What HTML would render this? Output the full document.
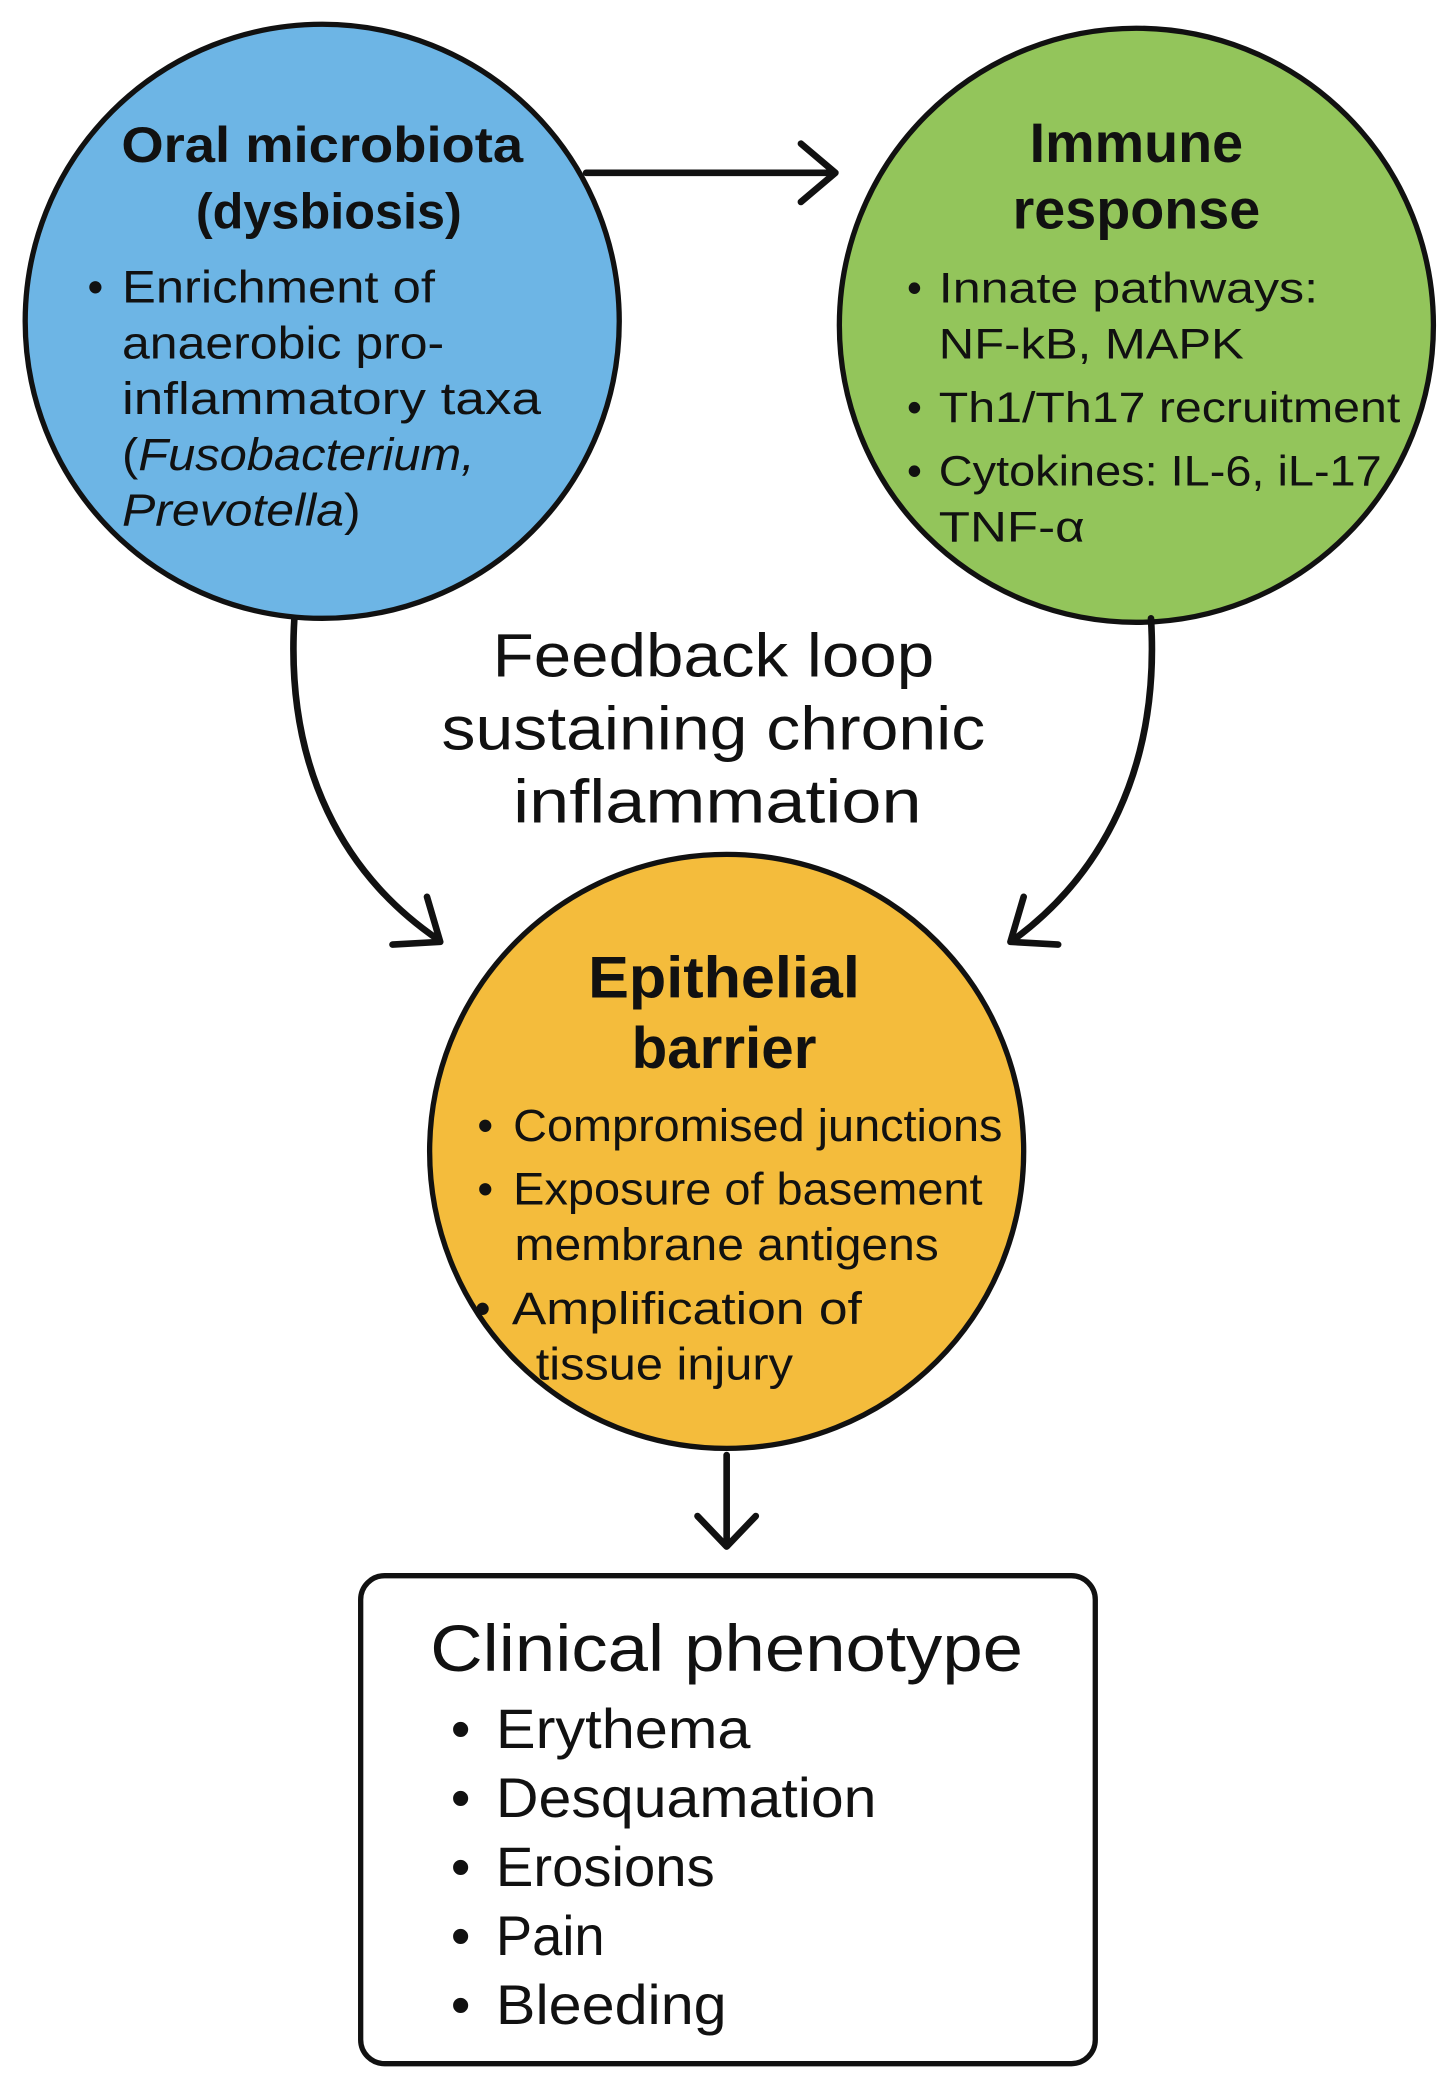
<!DOCTYPE html>
<html><head><meta charset="utf-8">
<style>
html,body{margin:0;padding:0;background:#fff;}
svg{display:block;}
text{font-family:"Liberation Sans","DejaVu Sans",sans-serif;fill:#111;}
</style></head>
<body>
<svg width="1448" height="2080" viewBox="0 0 1092 1568" xmlns="http://www.w3.org/2000/svg">
<!-- circles -->
<circle cx="243" cy="242" r="224" fill="#6db5e5" stroke="#111" stroke-width="4"/>
<circle cx="857" cy="245" r="224" fill="#93c55b" stroke="#111" stroke-width="4"/>
<circle cx="548" cy="868" r="224" fill="#f4bc3c" stroke="#111" stroke-width="4"/>
<rect x="272" y="1188" width="554" height="368" rx="18" fill="#fff" stroke="#111" stroke-width="4"/>

<!-- arrows -->
<g fill="none" stroke="#111" stroke-width="5" stroke-linecap="round" stroke-linejoin="round">
<path d="M442 130 L628 130"/>
<path d="M604 108 L630 130 L604 152"/>
<path d="M222 466 C215 580 260 660 330 708"/>
<path d="M296 712 L332 710 L322 676"/>
<path d="M868 466 C875 580 830 660 765 708"/>
<path d="M798 712 L762 710 L772 676"/>
<path d="M548 1097 L548 1165"/>
<path d="M526 1143 L548 1166 L570 1143"/>
</g>

<!-- blue text -->
<g font-size="38" font-weight="bold" text-anchor="middle">
<text x="243" y="122" textLength="303" lengthAdjust="spacingAndGlyphs">Oral microbiota</text>
<text x="248" y="172">(dysbiosis)</text>
</g>
<g font-size="34">
<text x="66" y="228">•</text>
<text x="92" y="228" textLength="236" lengthAdjust="spacingAndGlyphs">Enrichment of</text>
<text x="92" y="270" textLength="243" lengthAdjust="spacingAndGlyphs">anaerobic pro-</text>
<text x="92" y="312" textLength="316" lengthAdjust="spacingAndGlyphs">inflammatory taxa</text>
<text x="92" y="354" textLength="266" lengthAdjust="spacingAndGlyphs">(<tspan font-style="italic">Fusobacterium,</tspan></text>
<text x="92" y="396" textLength="180" lengthAdjust="spacingAndGlyphs"><tspan font-style="italic">Prevotella</tspan>)</text>
</g>

<!-- green text -->
<g font-size="42" font-weight="bold" text-anchor="middle">
<text x="857" y="122">Immune</text>
<text x="857" y="172">response</text>
</g>
<g font-size="32">
<text x="684" y="228">•</text>
<text x="708" y="228" textLength="286" lengthAdjust="spacingAndGlyphs">Innate pathways:</text>
<text x="708" y="270" textLength="230" lengthAdjust="spacingAndGlyphs">NF-kB, MAPK</text>
<text x="684" y="318">•</text>
<text x="708" y="318" textLength="348" lengthAdjust="spacingAndGlyphs">Th1/Th17 recruitment</text>
<text x="684" y="366">•</text>
<text x="708" y="366" textLength="334" lengthAdjust="spacingAndGlyphs">Cytokines: IL-6, iL-17</text>
<text x="708" y="408" textLength="110" lengthAdjust="spacingAndGlyphs">TNF-α</text>
</g>

<!-- feedback -->
<g font-size="46" text-anchor="middle">
<text x="538" y="510" textLength="333" lengthAdjust="spacingAndGlyphs">Feedback loop</text>
<text x="538" y="565" textLength="410" lengthAdjust="spacingAndGlyphs">sustaining chronic</text>
<text x="541" y="620" textLength="308" lengthAdjust="spacingAndGlyphs">inflammation</text>
</g>

<!-- yellow text -->
<g font-size="44" font-weight="bold" text-anchor="middle">
<text x="546" y="752" textLength="205" lengthAdjust="spacingAndGlyphs">Epithelial</text>
<text x="546" y="805">barrier</text>
</g>
<g font-size="34">
<text x="360" y="860">•</text>
<text x="387" y="860" textLength="369" lengthAdjust="spacingAndGlyphs">Compromised junctions</text>
<text x="360" y="908">•</text>
<text x="387" y="908" textLength="354" lengthAdjust="spacingAndGlyphs">Exposure of basement</text>
<text x="388" y="950" textLength="320" lengthAdjust="spacingAndGlyphs">membrane antigens</text>
<text x="358" y="998">•</text>
<text x="386" y="998" textLength="264" lengthAdjust="spacingAndGlyphs">Amplification of</text>
<text x="404" y="1040" textLength="194" lengthAdjust="spacingAndGlyphs">tissue injury</text>
</g>

<!-- clinical -->
<text x="548" y="1260" font-size="50" text-anchor="middle" textLength="447" lengthAdjust="spacingAndGlyphs">Clinical phenotype</text>
<g font-size="42">
<text x="340" y="1318">•</text><text x="374" y="1318" textLength="192" lengthAdjust="spacingAndGlyphs">Erythema</text>
<text x="340" y="1370">•</text><text x="374" y="1370" textLength="287" lengthAdjust="spacingAndGlyphs">Desquamation</text>
<text x="340" y="1422">•</text><text x="374" y="1422" textLength="165" lengthAdjust="spacingAndGlyphs">Erosions</text>
<text x="340" y="1474">•</text><text x="374" y="1474" textLength="82" lengthAdjust="spacingAndGlyphs">Pain</text>
<text x="340" y="1526">•</text><text x="374" y="1526" textLength="174" lengthAdjust="spacingAndGlyphs">Bleeding</text>
</g>
</svg>
</body></html>
